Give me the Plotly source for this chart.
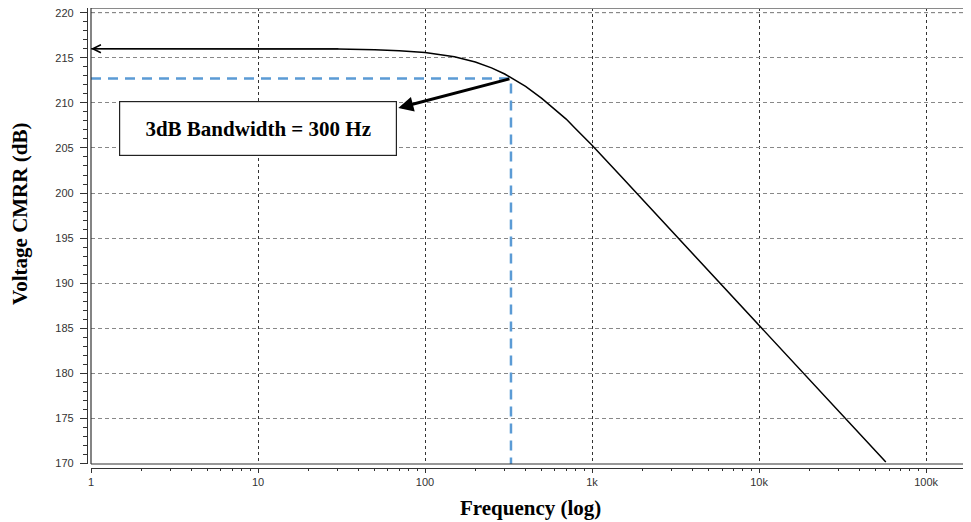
import math
import plotly.graph_objects as go

# Data
freq_hz = [1, 2, 5, 10, 20, 30, 50, 70, 100, 150, 200, 250, 300, 350, 400,
           500, 600, 700, 800, 1000, 1500, 2000, 3000, 5000, 10000, 20000,
           50000, 57400]
cmrr_db = [216.0, 216.0, 216.0, 216.0, 215.98, 215.96, 215.89, 215.79, 215.58,
           215.11, 214.53, 213.88, 213.2, 212.5, 211.82, 210.5, 209.3, 208.2,
           207.1, 205.3, 201.8, 199.3, 195.8, 191.36, 185.34, 179.32, 171.36,
           170.16]

x_tick_vals = [1, 10, 100, 1000, 10000, 100000]
x_tick_text = ["1", "10", "100", "1k", "10k", "100k"]
x_minor_vals = [m * d for d in [1, 10, 100, 1000, 10000, 100000]
                for m in range(2, 10)]
y_tick_vals = [170, 175, 180, 185, 190, 195, 200, 205, 210, 215, 220]

bw_freq = 327        # blue marker frequency (Hz)
bw_level = 212.7     # blue marker level (dB)
dc_level = 216.0
label_text = "3dB Bandwidth = 300 Hz"

serif = "Liberation Serif, Times New Roman, serif"
sans = "Liberation Sans, Arial, sans-serif"
lg = math.log10

# page body has an 8px default margin; figure is sized to fill the rest
W, H = 963, 514
ML, MR, MT, MB = 79, 0, 0, 54
X_RANGE = [0, 5.269]

fig = go.Figure()

# blue dashed guide lines
fig.add_trace(go.Scatter(
    x=[1, bw_freq, bw_freq], y=[bw_level, bw_level, 169.0],
    mode="lines", line=dict(color="#5b9bd5", width=2.5, dash="10px,7px"),
    hoverinfo="skip", showlegend=False, cliponaxis=False))

fig.add_trace(go.Scatter(
    x=freq_hz, y=cmrr_db, mode="lines",
    line=dict(color="black", width=1.5), showlegend=False))

# invisible trace on the minor-tick axis so it is drawn
fig.add_trace(go.Scatter(x=[1], y=[200], xaxis="x2", mode="markers",
                         marker=dict(opacity=0), hoverinfo="skip",
                         showlegend=False))

fig.update_layout(
    width=W, height=H,
    margin=dict(l=ML, r=MR, t=MT, b=MB, autoexpand=False),
    paper_bgcolor="white", plot_bgcolor="white",
    xaxis=dict(
        type="log", range=X_RANGE, domain=[4 / 884, 1],
        anchor="free", position=0,
        tickvals=x_tick_vals, ticktext=x_tick_text,
        ticks="outside", ticklen=4, tickcolor="#333", tickwidth=1,
        showline=True, linecolor="#333", linewidth=1.2,
        showgrid=True, gridcolor="#333", griddash="dot", gridwidth=1,
        tickfont=dict(family=sans, size=11, color="#333"),
        ticklabeloverflow="allow",
        zeroline=False,
    ),
    xaxis2=dict(
        type="log", range=X_RANGE, domain=[4 / 884, 1],
        anchor="free", position=0, overlaying="x",
        tickvals=x_minor_vals, showticklabels=False,
        ticks="outside", ticklen=2, tickcolor="#333", tickwidth=1,
        showline=False, showgrid=False, zeroline=False,
    ),
    yaxis=dict(
        range=[169.95, 220.52], domain=[4 / 460, 1],
        anchor="free", position=0,
        tickvals=y_tick_vals,
        ticks="outside", ticklen=7, tickcolor="#333", tickwidth=1,
        showline=True, linecolor="#333", linewidth=1.2,
        showgrid=True, gridcolor="#888", griddash="4px,3px", gridwidth=1,
        tickfont=dict(family=sans, size=11, color="#333"),
        ticklabeloverflow="allow", ticklabelstandoff=4,
        minor=dict(ticks="outside", ticklen=4, tickcolor="#333",
                   dtick=1, showgrid=False),
        zeroline=False,
    ),
)

# plot frame
fig.add_shape(type="line", xref="x domain", yref="y domain", x0=0, x1=1, y0=1, y1=1,
              line=dict(color="#8a8a8a", width=2))
fig.add_shape(type="line", xref="x domain", yref="y domain", x0=0, x1=0, y0=0, y1=1,
              line=dict(color="#333", width=1.2))
fig.add_shape(type="line", xref="x domain", yref="y domain", x0=0, x1=1, y0=0, y1=0,
              line=dict(color="#333", width=1.2))
# top grid line at 220 dB
fig.add_shape(type="line", xref="x domain", yref="y", x0=0, x1=1, y0=220, y1=220,
              line=dict(color="#888", width=1, dash="4px,3px"), layer="below")

# thin arrow pointing to DC level
fig.add_annotation(x=0.0, y=dc_level, ax=1.49, ay=dc_level,
                   xref="x", yref="y", axref="x", ayref="y",
                   showarrow=True, arrowhead=5, arrowsize=1.6, arrowwidth=1,
                   arrowcolor="black", text="")

# thick arrow from the 3dB point to the label
fig.add_annotation(x=1.84, y=209.43, ax=lg(bw_freq), ay=bw_level,
                   xref="x", yref="y", axref="x", ayref="y",
                   showarrow=True, arrowhead=2, arrowsize=1, arrowwidth=3,
                   arrowcolor="black", text="")

# label box
fig.add_annotation(x=0.998, y=207.16, xref="x", yref="y",
                   text="<b>" + label_text + "</b>", showarrow=False,
                   font=dict(family=serif, size=21, color="black"),
                   bgcolor="white", bordercolor="#222", borderwidth=1.2,
                   borderpad=0, width=276, height=53)

# axis titles (positions given in page pixels, converted to paper coords)
pw = W - ML - MR
ph = H - MT - MB
def px_to_paper(px, py):
    px -= 8
    py -= 8
    return (px - ML) / pw, (H - py - MB) / ph

tx, ty = px_to_paper(20, 214)
fig.add_annotation(x=tx, y=ty, xref="paper", yref="paper",
                   xanchor="center", yanchor="middle",
                   text="<b>Voltage CMRR (dB)</b>", showarrow=False, textangle=-90,
                   font=dict(family=serif, size=21, color="black"))
tx, ty = px_to_paper(530, 508)
fig.add_annotation(x=tx, y=ty, xref="paper", yref="paper",
                   xanchor="center", yanchor="middle",
                   text="<b>Frequency (log)</b>", showarrow=False,
                   font=dict(family=serif, size=21, color="black"))

fig.write_html("out.html")
